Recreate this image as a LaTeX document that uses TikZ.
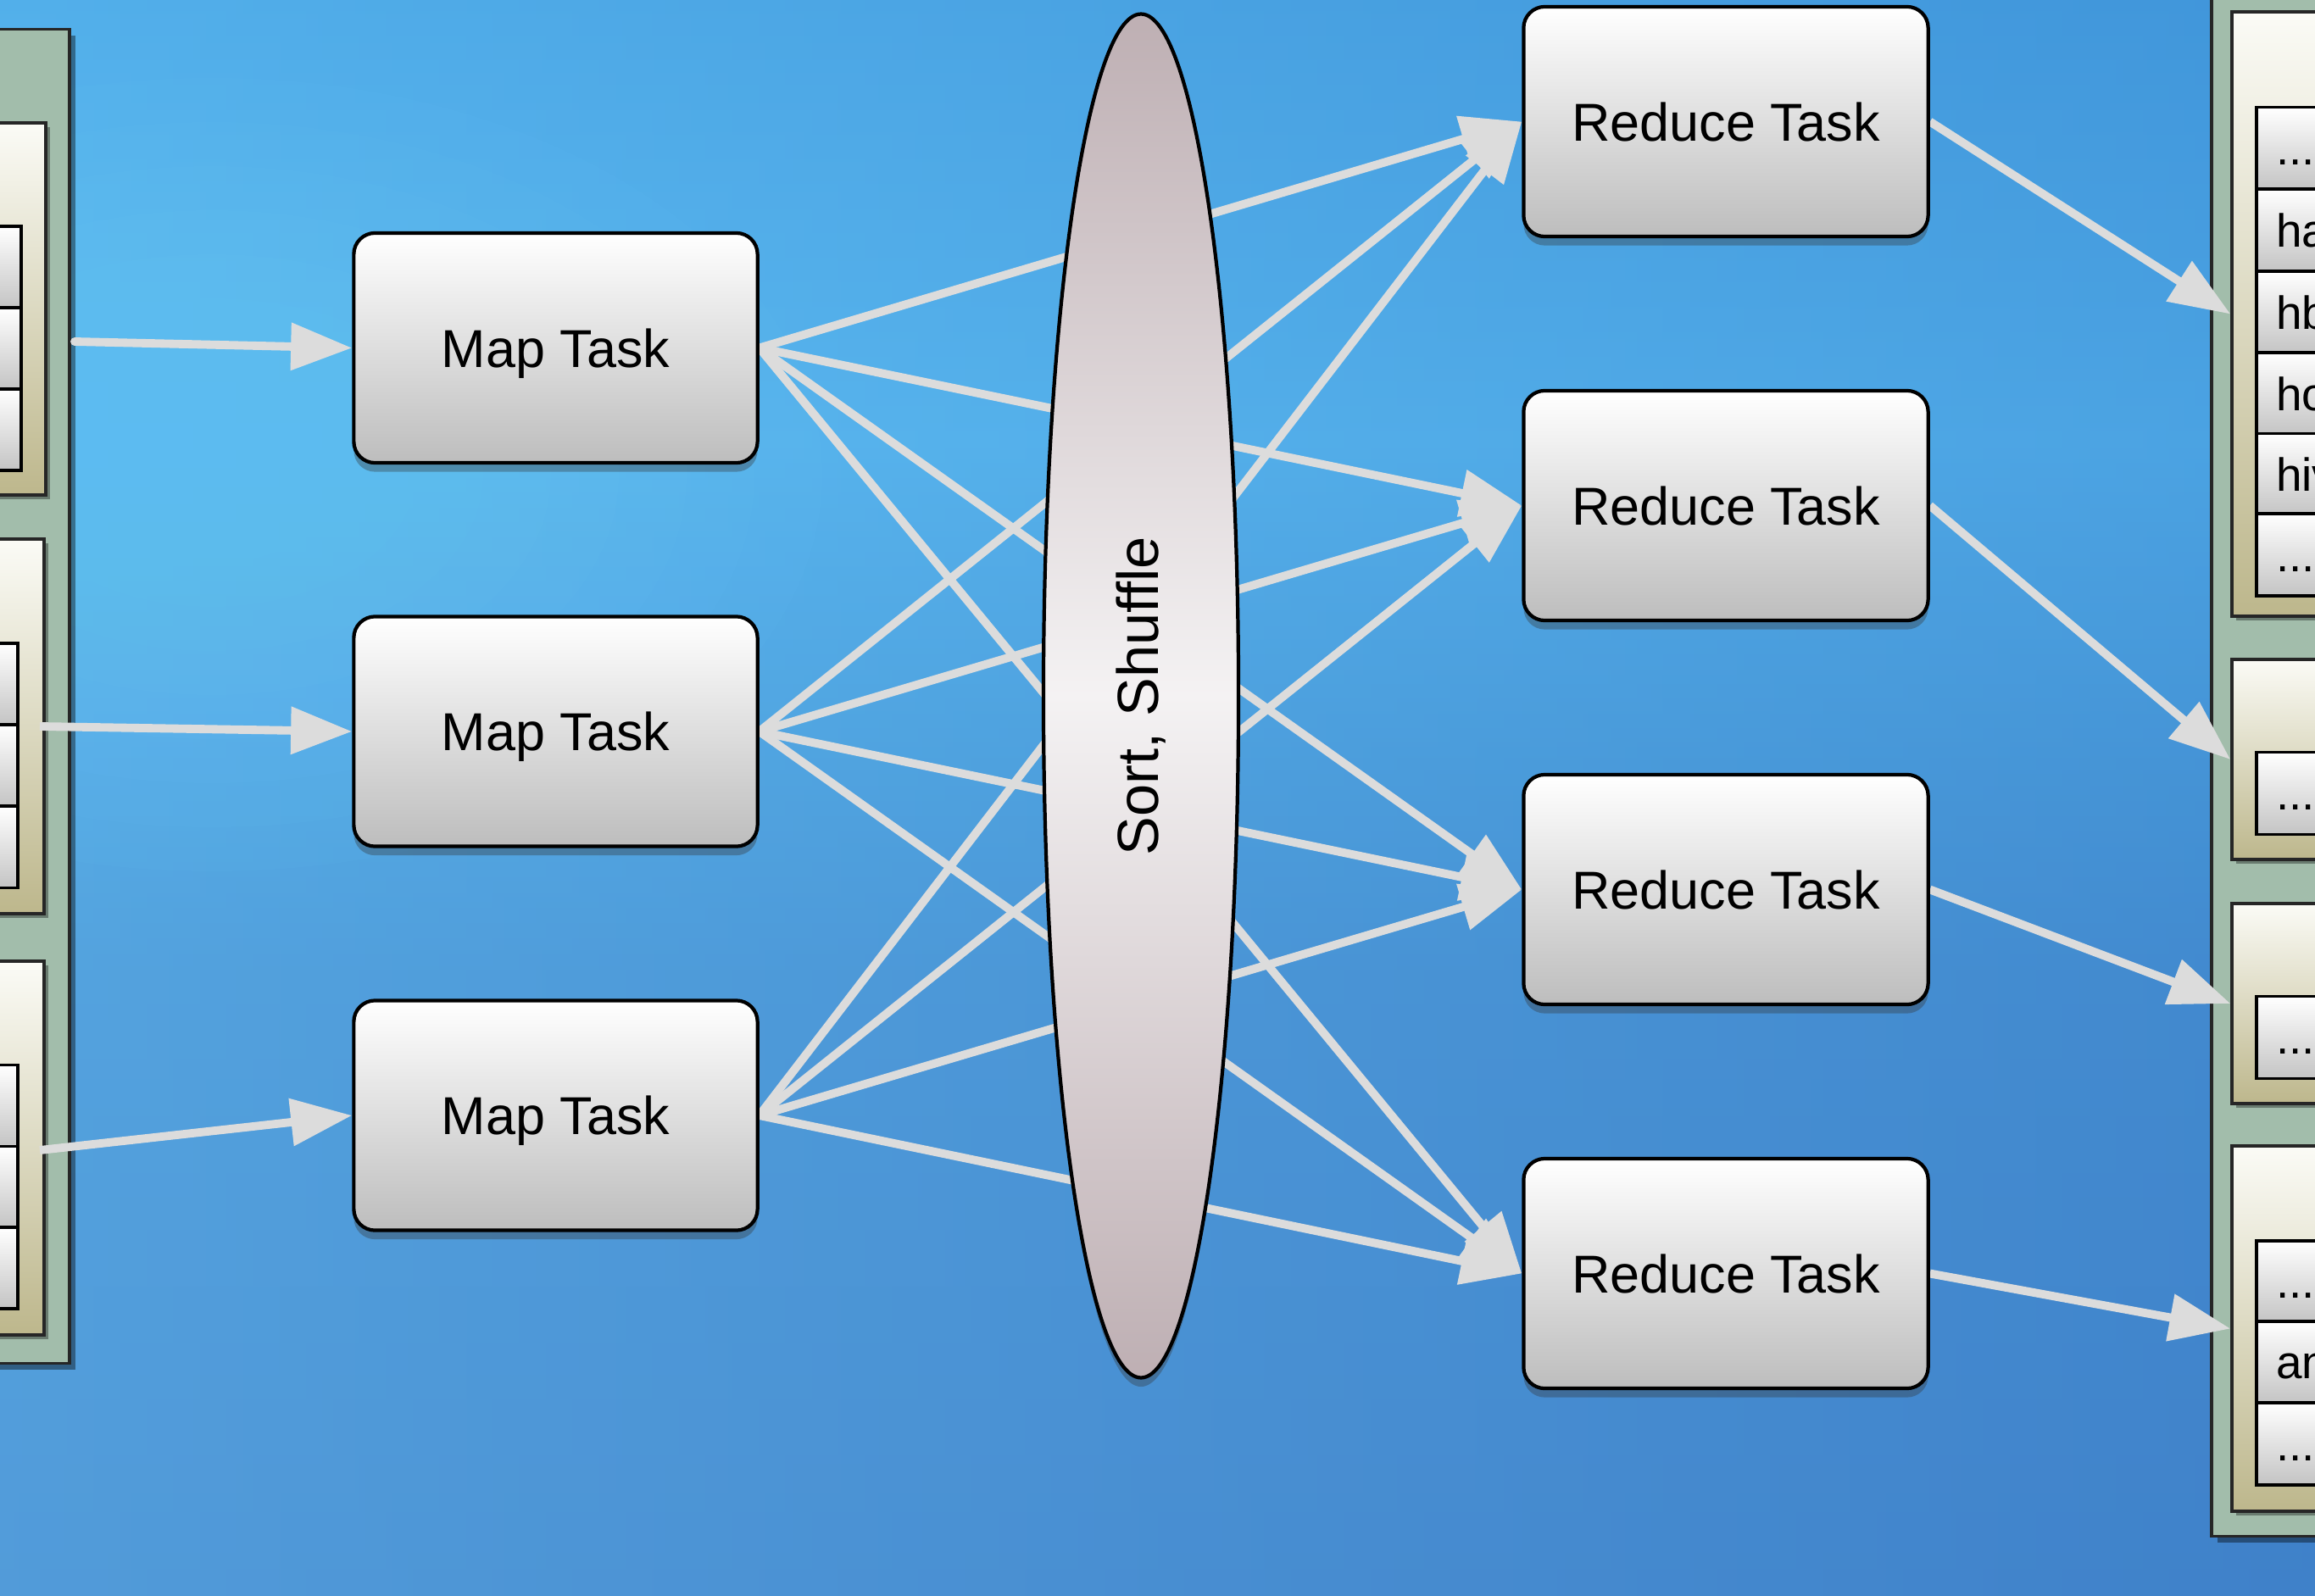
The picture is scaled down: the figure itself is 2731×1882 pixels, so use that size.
\documentclass[tikz,border=0pt]{standalone}
\usepackage{fontspec}
\setmainfont{Liberation Sans}
\usetikzlibrary{arrows.meta,shapes.geometric,shadows}

% sky background
\definecolor{skyA}{HTML}{48A4E4}
\definecolor{skyB}{HTML}{57B6EF}
\definecolor{skyC}{HTML}{4EA0DD}
\definecolor{skyD}{HTML}{4A92D3}
\definecolor{skyE}{HTML}{4787CC}
\definecolor{skyGlow}{HTML}{6CCBFA}
\definecolor{skyDeep}{HTML}{2E74C4}
% shapes
\definecolor{flowgray}{HTML}{DCDCDC}
\definecolor{taskbot}{HTML}{BDBDBD}
\definecolor{ellEnd}{HTML}{BEAFB3}
\definecolor{ellMid}{HTML}{F4F2F3}
\definecolor{storegreen}{HTML}{A2BDAB}
\definecolor{creamtop}{HTML}{FBFBF6}
\definecolor{creambot}{HTML}{BDB78C}
\definecolor{cellbot}{HTML}{C4C4C4}

\pgfdeclarelayer{bg}
\pgfdeclarelayer{wires}
\pgfsetlayers{bg,wires,main}

\newcommand\celldots{...}

\begin{document}
\begin{tikzpicture}[x=0.01cm, y=-0.01cm,
  softshadow/.style={drop shadow={shadow xshift=0pt, shadow yshift=-3pt, opacity=0.35, fill=black!80}},
  taskbox/.style={rectangle, rounded corners=0.25cm, draw=black, line width=1.2pt,
    top color=white, bottom color=taskbot, inner sep=0,
    minimum width=4.76cm, minimum height=2.71cm,
    text height=12.8pt, text depth=0pt,
    font=\fontsize{17.9}{21}\selectfont, softshadow},
  shuffle/.style={ellipse, draw=black, line width=1.2pt,
    top color=ellEnd, bottom color=ellEnd, middle color=ellMid,
    minimum width=2.3cm, minimum height=16.08cm, inner sep=0,
    font=\fontsize{19.5}{22}\selectfont, softshadow},
  greenbox/.style={rectangle, draw=black!85, line width=1pt, fill=storegreen, inner sep=0,
    drop shadow={shadow xshift=2pt, shadow yshift=-2pt, opacity=0.4, fill=black}},
  creambox/.style={rectangle, draw=black!85, line width=1pt,
    top color=creamtop, bottom color=creambot, inner sep=0,
    drop shadow={shadow xshift=1.5pt, shadow yshift=-1.5pt, opacity=0.35, fill=black}},
  cellbox/.style={rectangle, draw=black, line width=1pt,
    top color=white, bottom color=cellbot, inner sep=0},
  labelcell/.style={cellbox, inner xsep=0.23cm, inner ysep=0, text width=1.2cm, align=left,
    minimum height=0.965cm, text height=11.2pt, text depth=0pt,
    font=\fontsize{15.6}{18}\selectfont},
  flow/.style={draw=flowgray, line width=2.8pt,
    -{Triangle[length=20.5pt,width=15.4pt]}},
]
\useasboundingbox (0,0) rectangle (2731,1882);

\begin{pgfonlayer}{bg}
  % sky
  \shade[top color=skyA, bottom color=skyB] (0,-2) rectangle (2731,522);
  \shade[top color=skyB, bottom color=skyC] (0,520) rectangle (2731,902);
  \shade[top color=skyC, bottom color=skyD] (0,900) rectangle (2731,1152);
  \shade[top color=skyD, bottom color=skyE] (0,1150) rectangle (2731,1884);
  \shade[opacity=0.3, left color=skyGlow, right color=skyDeep] (0,0) rectangle (2731,1882);
  \foreach \k in {1,...,8}
    \fill[skyGlow, opacity=0.06] (250,560) ellipse [x radius={800-80*\k}, y radius={520-52*\k}];

  % input storage on the left
  \node[greenbox, minimum width=1.02cm, minimum height=15.73cm] (lstore) at (31,821.5) {};
  \node[creambox, minimum width=0.74cm, minimum height=4.39cm] (lc1) at (17,364.5) {};
  \node[creambox, minimum width=0.74cm, minimum height=4.42cm] (lc2) at (15,857) {};
  \node[creambox, minimum width=0.74cm, minimum height=4.41cm] (lc3) at (15,1354.5) {};
  \foreach \cy [count=\i] in {315,411,507}
    \node[cellbox, minimum width=0.46cm, minimum height=0.96cm] (la\i) at (2,\cy) {};
  \foreach \cy [count=\i] in {807,903,999.5}
    \node[cellbox, minimum width=0.42cm, minimum height=0.96cm] (lb\i) at (0,\cy) {};
  \foreach \cy [count=\i] in {1304.5,1400.5,1496}
    \node[cellbox, minimum width=0.42cm, minimum height=0.96cm] (lcc\i) at (0,\cy) {};

  % output storage on the right
  \node[greenbox, minimum width=1.51cm, minimum height=18.32cm] (rstore) at (2684.5,896) {};
  \node[creambox, minimum width=1.27cm, minimum height=7.13cm] (rc1) at (2696.5,370.5) {};
  \node[creambox, minimum width=1.27cm, minimum height=2.36cm] (rc2) at (2696.5,896) {};
  \node[creambox, minimum width=1.27cm, minimum height=2.36cm] (rc3) at (2696.5,1184) {};
  \node[creambox, minimum width=1.27cm, minimum height=4.31cm] (rc4) at (2696.5,1567.5) {};
  \foreach \cy/\txt [count=\i] in {175/\celldots, 271.5/ha, 368.5/hb, 464.5/ho, 560/hiv, 654.5/\celldots}
    \node[labelcell] (ra\i) at (2745,\cy) {\txt};
  \node[labelcell] (rb1) at (2745,936) {\celldots};
  \node[labelcell] (rcc1) at (2745,1224) {\celldots};
  \foreach \cy/\txt [count=\i] in {1512/\celldots, 1607/an, 1703.5/\celldots}
    \node[labelcell] (rd\i) at (2745,\cy) {\txt};
\end{pgfonlayer}

% tasks
\node[taskbox] (m1) at (655.5,410.5) {Map Task};
\node[taskbox] (m2) at (655.5,863) {Map Task};
\node[taskbox] (m3) at (655.5,1316) {Map Task};

\node[taskbox, minimum width=4.77cm] (r1) at (2036,143.5) {Reduce Task};
\node[taskbox, minimum width=4.77cm] (r2) at (2036,596.5) {Reduce Task};
\node[taskbox, minimum width=4.77cm] (r3) at (2036,1049.5) {Reduce Task};
\node[taskbox, minimum width=4.77cm] (r4) at (2036,1502.5) {Reduce Task};

\node[shuffle] (sort) at (1346,821) {\rotatebox{90}{Sort, Shuffle}};

% connectors
\coordinate (in1) at (88,403);
\coordinate (in2) at (47,857);
\coordinate (in3) at (47,1357);

\begin{pgfonlayer}{wires}
  \draw[flow, line cap=round] (in1) -- (m1.west);
  \draw[flow] (in2) -- (m2.west);
  \draw[flow] (in3) -- (m3.west);
  \foreach \m in {m1,m2,m3}
    \foreach \r in {r1,r2,r3,r4}
      \draw[flow] (\m.east) -- (\r.west);
  \draw[flow] (r1.east) -- (rc1.west);
  \draw[flow] (r2.east) -- (rc2.west);
  \draw[flow] (r3.east) -- (rc3.west);
  \draw[flow] (r4.east) -- (rc4.west);
\end{pgfonlayer}
\end{tikzpicture}
\end{document}
